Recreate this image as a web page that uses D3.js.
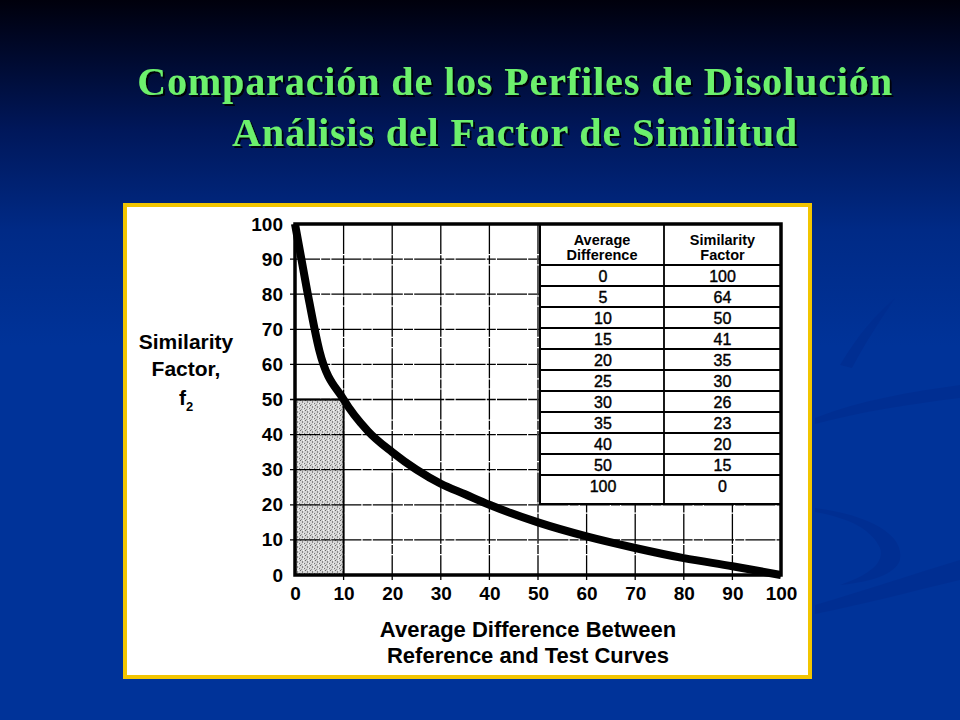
<!DOCTYPE html>
<html>
<head>
<meta charset="utf-8">
<script src="https://cdn.jsdelivr.net/npm/d3@7"></script>
<style>
  html, body { margin: 0; padding: 0; background: #003399; }
  svg { display: block; }
</style>
</head>
<body>
<svg id="svg" width="960" height="720"></svg>
<script>
const width = 960;
const height = 720;

// table values printed on the chart
const tableDiff = [0, 5, 10, 15, 20, 25, 30, 35, 40, 50, 100];
const tableF2 = [100, 64, 50, 41, 35, 30, 26, 23, 20, 15, 0];

// points
const curveX = [0, 2.5, 5, 10, 15, 20, 25, 30, 35, 40, 50, 60, 70, 80, 90, 100];
const curveY = [100, 81, 64, 50, 41, 35, 30, 26, 23, 20, 15, 11, 7.7, 4.8, 2.5, 0];

const xTicks = [0, 10, 20, 30, 40, 50, 60, 70, 80, 90, 100];
const yTicks = [0, 10, 20, 30, 40, 50, 60, 70, 80, 90, 100];

// shaded acceptance zone (difference 0-10, f2 0-50)
const zoneX = [0, 10];
const zoneY = [0, 50];

const titleLines = ['Comparación de los Perfiles de Disolución', 'Análisis del Factor de Similitud'];
const yTitle = ['Similarity', 'Factor,'];
const xTitle = ['Average Difference Between', 'Reference and Test Curves'];
const tableHead = [['Average', 'Difference'], ['Similarity', 'Factor']];

const plot = { left: 295, right: 781, top: 224, bottom: 575 };
const panel = { x: 125, y: 205, w: 685, h: 472 };
const table = { left: 540, mid: 664, right: 781, headBottom: 265, row: 21, bottom: 504 };

const font = '"Liberation Sans", Arial, sans-serif';

const svg = d3.select('#svg');
const defs = svg.append('defs');

// background
const bg = defs.append('linearGradient')
  .attr('id', 'bg')
  .attr('x1', 0).attr('y1', 0).attr('x2', 0).attr('y2', 1);
bg.append('stop').attr('offset', '0%').attr('stop-color', '#00000c');
bg.append('stop').attr('offset', '5%').attr('stop-color', '#000622');
bg.append('stop').attr('offset', '18%').attr('stop-color', '#00175a');
bg.append('stop').attr('offset', '32%').attr('stop-color', '#002a86');
bg.append('stop').attr('offset', '48%').attr('stop-color', '#003399');
bg.append('stop').attr('offset', '100%').attr('stop-color', '#003399');

svg.append('rect')
  .attr('width', width)
  .attr('height', height)
  .attr('fill', 'url(#bg)');

// faint swooshes on the right
const swoosh = svg.append('g').attr('fill', '#002c8e').attr('opacity', 0.6);
swoosh.append('path').attr('d', 'M815,418 C860,400 910,392 960,385 L960,398 C910,404 860,412 815,424 Z');
swoosh.append('path').attr('d', 'M815,508 C870,515 905,535 900,560 C895,575 870,582 840,585 C870,575 885,562 880,548 C872,530 850,518 815,512 Z');
swoosh.append('path').attr('d', 'M815,605 C860,592 910,575 960,560 L960,580 C910,592 860,605 815,614 Z');
swoosh.append('path').attr('d', 'M840,365 C858,335 875,315 895,298 C882,318 868,338 852,368 Z');

// title with drop shadow
const shadow = defs.append('filter')
  .attr('id', 'shadow')
  .attr('x', '-5%').attr('y', '-20%')
  .attr('width', '110%').attr('height', '140%');
shadow.append('feDropShadow')
  .attr('dx', 2).attr('dy', 2)
  .attr('stdDeviation', 0.6)
  .attr('flood-color', '#000000')
  .attr('flood-opacity', 0.85);

const title = svg.append('g')
  .attr('font-family', '"Liberation Serif", "Times New Roman", serif')
  .attr('font-weight', 'bold')
  .attr('font-size', 40)
  .attr('letter-spacing', 0.9)
  .attr('text-anchor', 'middle')
  .attr('fill', '#6cf06c')
  .attr('filter', 'url(#shadow)');

titleLines.forEach((t, i) => {
  title.append('text')
    .attr('x', 515).attr('y', 95 + i * 51)
    .text(t);
});

// white panel with yellow border
svg.append('rect')
  .attr('x', panel.x).attr('y', panel.y)
  .attr('width', panel.w).attr('height', panel.h)
  .attr('fill', '#ffffff')
  .attr('stroke', '#f2c500')
  .attr('stroke-width', 4);

const xScale = d3.scaleLinear()
  .domain([0, 100])
  .range([plot.left, plot.right]);

const yScale = d3.scaleLinear()
  .domain([0, 100])
  .range([plot.bottom, plot.top]);

// stippled zone pattern
const pat = defs.append('pattern')
  .attr('id', 'stipple')
  .attr('patternUnits', 'userSpaceOnUse')
  .attr('width', 5).attr('height', 5);
pat.append('rect').attr('width', 5).attr('height', 5).attr('fill', '#d6d6d6');
pat.append('rect').attr('x', 0).attr('y', 0).attr('width', 1).attr('height', 1).attr('fill', '#6a6a6a');
pat.append('rect').attr('x', 2).attr('y', 1).attr('width', 1).attr('height', 2).attr('fill', '#8a8a8a');
pat.append('rect').attr('x', 4).attr('y', 3).attr('width', 1).attr('height', 1).attr('fill', '#787878');
pat.append('rect').attr('x', 1).attr('y', 4).attr('width', 1).attr('height', 1).attr('fill', '#989898');
pat.append('rect').attr('x', 3).attr('y', 0).attr('width', 1).attr('height', 1).attr('fill', '#f4f4f4');
pat.append('rect').attr('x', 3).attr('y', 3).attr('width', 1).attr('height', 1).attr('fill', '#f0f0f0');

svg.append('rect')
  .attr('x', xScale(zoneX[0]))
  .attr('y', yScale(zoneY[1]))
  .attr('width', xScale(zoneX[1]) - xScale(zoneX[0]))
  .attr('height', yScale(zoneY[0]) - yScale(zoneY[1]))
  .attr('fill', 'url(#stipple)');

// grid lines
const grid = svg.append('g')
  .attr('stroke', '#000')
  .attr('stroke-width', 1.3)
  .attr('stroke-dasharray', '30,1.2,9,1.2');

grid.selectAll(null)
  .data(xTicks.filter(d => d > 0 && d < 100))
  .enter()
  .append('line')
  .attr('x1', d => xScale(d)).attr('x2', d => xScale(d))
  .attr('y1', plot.top).attr('y2', plot.bottom + 5);

grid.selectAll(null)
  .data(yTicks.filter(d => d > 0 && d < 100))
  .enter()
  .append('line')
  .attr('x1', plot.left - 5).attr('x2', plot.right)
  .attr('y1', d => yScale(d)).attr('y2', d => yScale(d));

// zone outline edges
svg.append('line')
  .attr('x1', xScale(zoneX[0])).attr('x2', xScale(zoneX[1]))
  .attr('y1', yScale(zoneY[1])).attr('y2', yScale(zoneY[1]))
  .attr('stroke', '#000').attr('stroke-width', 1.8);
svg.append('line')
  .attr('x1', xScale(zoneX[1])).attr('x2', xScale(zoneX[1]))
  .attr('y1', yScale(zoneY[1])).attr('y2', yScale(zoneY[0]))
  .attr('stroke', '#000').attr('stroke-width', 1.8);

// table over the grid
const tbl = svg.append('g');
tbl.append('rect')
  .attr('x', table.left).attr('y', plot.top)
  .attr('width', table.right - table.left)
  .attr('height', table.bottom - plot.top)
  .attr('fill', '#ffffff')
  .attr('stroke', '#000')
  .attr('stroke-width', 2);

tbl.append('line')
  .attr('x1', table.mid).attr('x2', table.mid)
  .attr('y1', plot.top).attr('y2', table.bottom)
  .attr('stroke', '#000').attr('stroke-width', 1.8);

const rowLines = d3.range(tableDiff.length).map(i => table.headBottom + i * table.row);
tbl.selectAll(null)
  .data(rowLines)
  .enter()
  .append('line')
  .attr('x1', table.left).attr('x2', table.right)
  .attr('y1', d => d).attr('y2', d => d)
  .attr('stroke', '#000')
  .attr('stroke-width', 2.2);

tableHead.forEach((lines, c) => {
  const cx = c === 0 ? (table.left + table.mid) / 2 : (table.mid + table.right) / 2;
  lines.forEach((t, j) => {
    tbl.append('text')
      .attr('x', cx).attr('y', 245 + j * 15)
      .attr('text-anchor', 'middle')
      .attr('font-family', font)
      .attr('font-weight', 'bold')
      .attr('font-size', 14.5)
      .text(t);
  });
});

const cellY = i => table.headBottom + i * table.row + 16.5;
[tableDiff, tableF2].forEach((col, c) => {
  const cx = c === 0 ? (table.left + table.mid) / 2 + 1 : (table.mid + table.right) / 2;
  tbl.selectAll(null)
    .data(col)
    .enter()
    .append('text')
    .attr('x', cx)
    .attr('y', (d, i) => cellY(i))
    .attr('text-anchor', 'middle')
    .attr('font-family', font)
    .attr('font-size', 16)
    .attr('fill', '#000')
    .attr('stroke', '#000')
    .attr('stroke-width', 0.4)
    .text(d => d);
});

// plot frame
svg.append('rect')
  .attr('x', plot.left).attr('y', plot.top)
  .attr('width', plot.right - plot.left)
  .attr('height', plot.bottom - plot.top)
  .attr('fill', 'none')
  .attr('stroke', '#000')
  .attr('stroke-width', 3.5);

// similarity curve
const line = d3.line()
  .x(d => xScale(d[0]))
  .y(d => yScale(d[1]))
  .curve(d3.curveMonotoneX);

svg.append('path')
  .datum(curveX.map((x, i) => [x, curveY[i]]))
  .attr('d', line)
  .attr('fill', 'none')
  .attr('stroke', '#000')
  .attr('stroke-width', 8)
  .attr('stroke-linejoin', 'round');

// axes
const xAxis = d3.axisBottom(xScale)
  .tickValues(xTicks)
  .tickSize(0)
  .tickPadding(12);

const yAxis = d3.axisLeft(yScale)
  .tickValues(yTicks)
  .tickSize(0)
  .tickPadding(12);

const gx = svg.append('g')
  .attr('transform', 'translate(0,' + plot.bottom + ')')
  .call(xAxis);

const gy = svg.append('g')
  .attr('transform', 'translate(' + plot.left + ',0)')
  .call(yAxis);

[gx, gy].forEach(g => {
  g.select('.domain').remove();
  g.selectAll('text')
    .attr('font-family', font)
    .attr('font-weight', 'bold')
    .attr('font-size', 19)
    .attr('fill', '#000');
});

// axis titles
const yt = svg.append('g')
  .attr('font-family', font)
  .attr('font-weight', 'bold')
  .attr('font-size', 21)
  .attr('text-anchor', 'middle');

yTitle.forEach((t, i) => {
  yt.append('text')
    .attr('x', 186).attr('y', 349 + i * 27)
    .text(t);
});
const f2 = yt.append('text')
  .attr('x', 186).attr('y', 405);
f2.append('tspan').text('f');
f2.append('tspan')
  .attr('font-size', 13)
  .attr('dy', 6)
  .text('2');

const xt = svg.append('g')
  .attr('font-family', font)
  .attr('font-weight', 'bold')
  .attr('font-size', 22)
  .attr('text-anchor', 'middle');

xTitle.forEach((t, i) => {
  xt.append('text')
    .attr('x', 528).attr('y', 637 + i * 26)
    .text(t);
});
</script>
</body>
</html>
